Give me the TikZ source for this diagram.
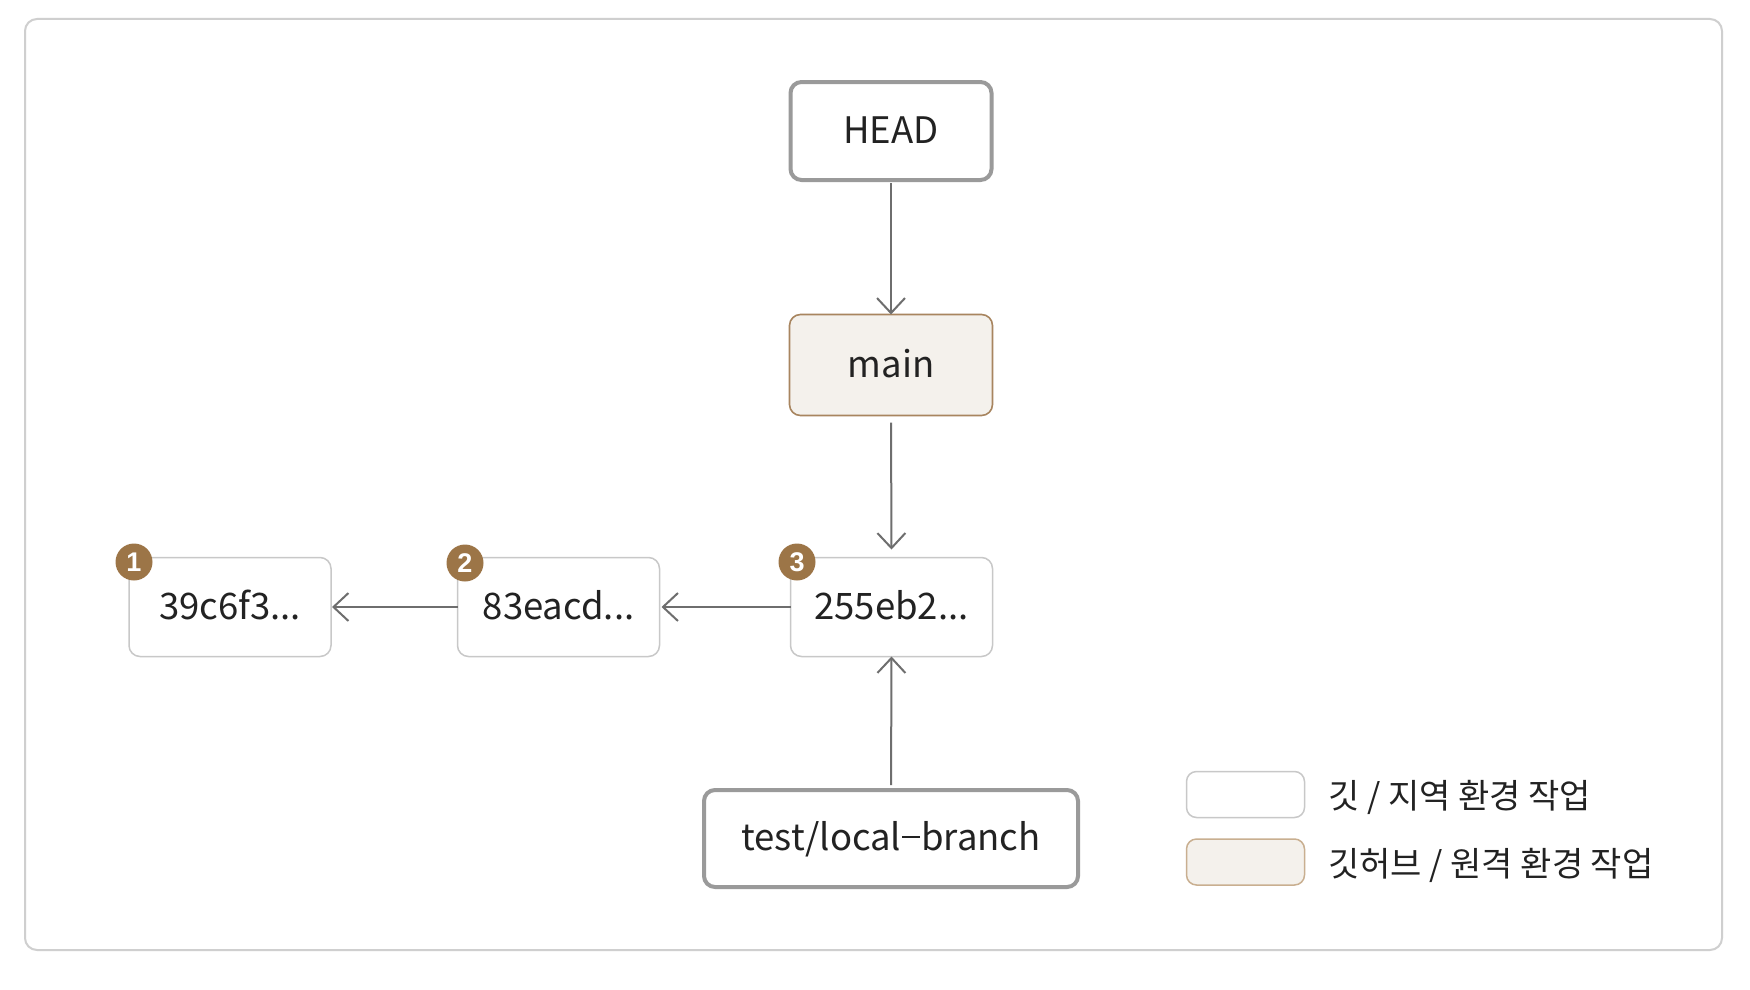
\documentclass[tikz,border=0pt]{standalone}
\usepackage{fontspec}
\setmainfont{Noto Sans CJK KR}
\newfontfamily\badgefont{Liberation Sans}
\usetikzlibrary{arrows.meta}
\definecolor{txt}{HTML}{222222}
\definecolor{framec}{HTML}{CFCFCF}
\definecolor{thickc}{HTML}{9A9A9A}
\definecolor{thinc}{HTML}{C8C8C8}
\definecolor{beigef}{HTML}{F4F1EC}
\definecolor{beiged}{HTML}{A8855F}
\definecolor{beigel}{HTML}{C9AF90}
\definecolor{badgec}{HTML}{9C7547}
\definecolor{arrc}{HTML}{6E6E6E}
\tikzset{
  box/.style={rectangle, rounded corners=11pt, inner sep=0pt, outer sep=0pt,
    text height=24pt, text depth=0pt, text=txt, align=center,
    font=\fontsize{36.5}{38}\selectfont},
  refbox/.style={box, draw=thickc, line width=4pt, fill=white},
  remotebox/.style={box, draw=beiged, line width=1.6pt, fill=beigef},
  commitbox/.style={box, draw=thinc, line width=1.5pt, fill=white},
  badge/.style={circle, fill=badgec, minimum size=37pt, inner sep=0pt,
    text=white, font=\badgefont\bfseries\fontsize{27}{28}\selectfont},
  arr/.style={draw=arrc, line width=2pt,
    -{Straight Barb[length=15pt,width=28pt,line width=2pt]}},
  legbox/.style={rectangle, rounded corners=10pt, minimum width=118pt,
    minimum height=46pt, inner sep=0pt, line width=1.5pt},
  legtext/.style={anchor=base west, inner sep=0pt, text=txt,
    font=\fontsize{34}{36}\selectfont},
}
\begin{document}
\begin{tikzpicture}[x=1pt,y=-1pt]
\useasboundingbox (0,0) rectangle (1750,990);
\fill[white] (0,0) rectangle (1750,990);
\draw[framec, line width=2pt, rounded corners=12pt] (25,19) rectangle (1722,950);

\node[refbox, minimum width=201pt, minimum height=98pt] (head) at (891,131) {HEAD};
\node[remotebox, minimum width=203pt, minimum height=101pt] (main) at (891,365) {main};
\node[commitbox, minimum width=202pt, minimum height=99pt] (c3) at (891.5,607) {255eb2...};
\node[commitbox, minimum width=202pt, minimum height=99pt] (c2) at (558.5,607) {83eacd...};
\node[commitbox, minimum width=202pt, minimum height=99pt] (c1) at (230,607) {39c6f3...};
\node[refbox, minimum width=374pt, minimum height=97pt] (test) at (891,838.5) {test/local\kern1pt\rule[12.5pt]{18pt}{2pt}\kern1pt branch};

\node[badge] (b1) at (134,562) {1};
\node[badge] (b2) at (465,563) {2};
\node[badge] (b3) at (797,562) {3};

\draw[arr, shorten <=3pt, shorten >=0pt] (head.south) -- (main.north);
\draw[arr, shorten <=7pt, shorten >=8pt] (main.south) -- (c3.north);
\draw[arr, shorten <=0pt, shorten >=2pt] (c3.west) -- (c2.east);
\draw[arr, shorten <=0pt, shorten >=1pt] (c2.west) -- (c1.east);
\draw[arr, shorten <=5pt, shorten >=0pt] (test.north) -- (c3.south);

\node[legbox, draw=thinc, fill=white] (leg1) at (1245.5,794.5) {};
\node[legbox, draw=beigel, fill=beigef] (leg2) at (1245.5,862) {};
\node[legtext] (leg1t) at (1328,808) {깃 / 지역 환경 작업};
\node[legtext] (leg2t) at (1328,876) {깃허브 / 원격 환경 작업};
\end{tikzpicture}
\end{document}
